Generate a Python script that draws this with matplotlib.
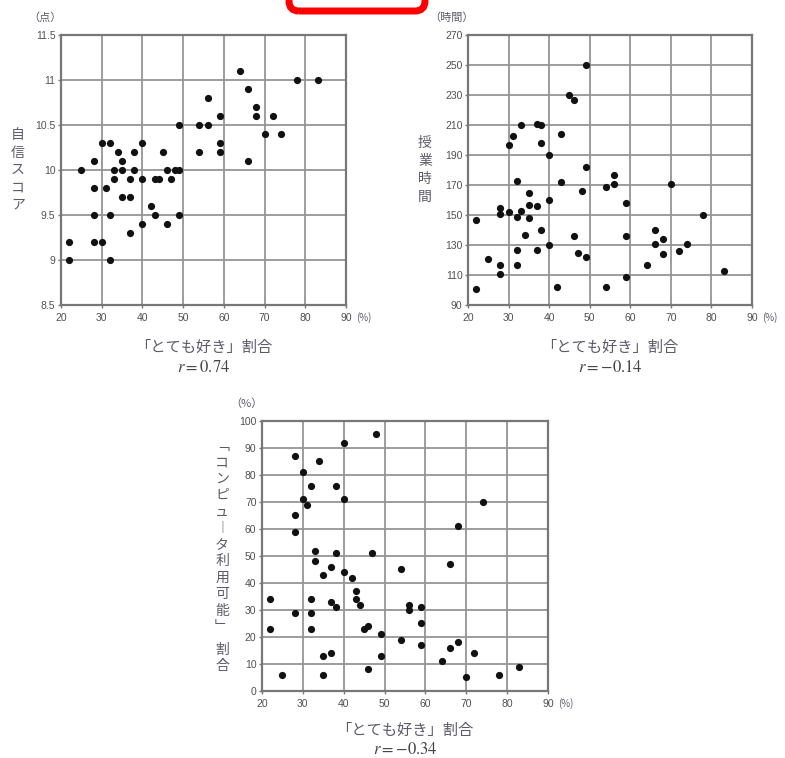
import numpy as np
import matplotlib.pyplot as plt
from matplotlib.patches import FancyBboxPatch
from matplotlib.ticker import FuncFormatter

plt.rcParams['font.family'] = ['Noto Sans CJK JP', 'DejaVu Sans']
plt.rcParams['mathtext.fontset'] = 'stix'

# 「とても好き」割合 vs 自信スコア
like_a = [22, 22, 25, 28, 28, 28, 28, 30, 30, 31, 32, 32, 32, 33, 33, 34, 35, 35, 35,
          37, 37, 37, 38, 38, 40, 40, 40, 42, 43, 43, 44, 45, 46, 46, 47, 48, 49, 49,
          49, 54, 54, 56, 56, 59, 59, 59, 64, 66, 66, 68, 68, 70, 72, 74, 78, 83]
score = [9.2, 9.0, 10.0, 10.1, 9.8, 9.5, 9.2, 10.3, 9.2, 9.8, 10.3, 9.5, 9.0, 10.0,
         9.9, 10.2, 10.1, 10.0, 9.7, 9.9, 9.7, 9.3, 10.2, 10.0, 10.3, 9.9, 9.4, 9.6,
         9.9, 9.5, 9.9, 10.2, 10.0, 9.4, 9.9, 10.0, 10.5, 10.0, 9.5, 10.5, 10.2, 10.8,
         10.5, 10.6, 10.3, 10.2, 11.1, 10.9, 10.1, 10.7, 10.6, 10.4, 10.6, 10.4, 11.0, 11.0]

# 「とても好き」割合 vs 授業時間
like_b = [22, 22, 25, 28, 28, 28, 28, 30, 30, 31, 32, 32, 32, 32, 33, 33, 34, 35, 35,
          35, 37, 37, 37, 38, 38, 38, 40, 40, 40, 42, 43, 43, 45, 46, 46, 47, 48, 49,
          49, 49, 54, 54, 56, 56, 59, 59, 59, 64, 66, 66, 68, 68, 70, 72, 74, 78, 83]
hours = [147, 101, 121, 155, 151, 117, 111, 197, 152, 203, 173, 149, 127, 117, 210,
         153, 137, 165, 157, 148, 211, 156, 127, 210, 198, 140, 190, 160, 130, 102,
         204, 172, 230, 227, 136, 125, 166, 250, 182, 122, 169, 102, 177, 171, 158,
         136, 109, 117, 140, 131, 134, 124, 171, 126, 131, 150, 113]

# 「とても好き」割合 vs 「コンピュータ利用可能」割合
like_c = [22, 22, 25, 28, 28, 28, 28, 30, 30, 31, 32, 32, 32, 32, 33, 33, 34, 35, 35,
          35, 37, 37, 37, 38, 38, 38, 40, 40, 40, 42, 43, 43, 44, 45, 46, 46, 47, 48,
          49, 49, 54, 54, 56, 56, 59, 59, 59, 64, 66, 66, 68, 68, 70, 72, 74, 78, 83]
pc_rate = [34, 23, 6, 87, 65, 59, 29, 81, 71, 69, 76, 34, 29, 23, 52, 48, 85, 43, 13,
           6, 46, 33, 14, 76, 51, 31, 92, 71, 44, 42, 37, 34, 32, 23, 24, 8, 51, 95,
           21, 13, 45, 19, 32, 30, 31, 25, 17, 11, 47, 16, 61, 18, 5, 14, 70, 6, 9]

x_ticks = np.arange(20, 91, 10)
x_name = '「とても好き」割合'

TXT = '#5b5b6b'
GRID = '#959595'
SPINE = '#777777'

fig = plt.figure(figsize=(7.85, 7.58), dpi=100)


def vertical_label(ax, chars, dx, step, gap_after=None, gap=0.0, size=10):
    # stack characters upright, centred on the axes height
    offs = []
    pos = 0.0
    for i, ch in enumerate(chars):
        offs.append(pos)
        pos += step
        if gap_after is not None and i == gap_after:
            pos += gap
    mid = (offs[0] + offs[-1]) / 2
    for ch, o in zip(chars, offs):
        ax.annotate(ch, xy=(0, 0.5), xycoords='axes fraction',
                    xytext=(dx, mid - o), textcoords='offset pixels',
                    ha='center', va='center', fontsize=size, color=TXT)


def scatter_panel(rect, x, y, yticks, unit, r_text, ylab, ylab_kw, xl_off):
    ax = fig.add_axes(rect)
    ax.scatter(x, y, s=27, color='#111111', zorder=3, linewidths=0)
    ax.set_xlim(20, 90)
    ax.set_ylim(yticks[0], yticks[-1])
    ax.set_xticks(x_ticks)
    ax.set_yticks(yticks)
    ax.yaxis.set_major_formatter(FuncFormatter(lambda v, _: f'{v:g}'))
    ax.grid(True, color=GRID, lw=1.3)
    ax.set_axisbelow(True)
    for sp in ax.spines.values():
        sp.set_color(SPINE)
        sp.set_linewidth(1.6)
    ax.tick_params(length=2.5, width=1, color=SPINE, labelsize=7.5,
                   labelcolor='#505050', labelfontfamily='Liberation Sans')
    ax.tick_params(axis='x', pad=3)
    ax.tick_params(axis='y', pad=1.5)

    # units
    ax.annotate(unit, xy=(0, 1), xycoords='axes fraction', xytext=(-16, 17),
                textcoords='offset pixels', ha='center', va='center',
                fontsize=8, color=TXT)
    ax.annotate('(%)', xy=(1, 0), xycoords='axes fraction', xytext=(18, -13),
                textcoords='offset pixels', ha='center', va='center',
                fontsize=7, color=TXT)

    ax.annotate(x_name, xy=(0.5, 0), xycoords='axes fraction',
                xytext=(0, -xl_off), textcoords='offset pixels',
                ha='center', va='center', fontsize=11, color=TXT)
    ax.annotate(r_text, xy=(0.5, 0), xycoords='axes fraction',
                xytext=(0, -xl_off - 20), textcoords='offset pixels',
                ha='center', va='center', fontsize=12, color='#444444')
    vertical_label(ax, ylab, **ylab_kw)
    return ax


scatter_panel([0.0777, 0.5976, 0.3631, 0.3562], like_a, score,
              np.arange(8.5, 11.51, 0.5), '（点）', r'$r=0.74$',
              list('自信スコア'), dict(dx=-43, step=17.5), 42)

scatter_panel([0.5962, 0.5976, 0.3618, 0.3562], like_b, hours,
              np.arange(90, 271, 20), '（時間）', r'$r=-0.14$',
              list('授業時間'), dict(dx=-43, step=18), 42)

scatter_panel([0.3338, 0.0884, 0.3643, 0.3562], like_c, pc_rate,
              np.arange(0, 101, 10), '（%）', r'$r=-0.34$',
              list('﹁コンピュ︱タ利用可能﹂割合'),
              dict(dx=-40, step=16.5, gap_after=11, gap=6), 39)

# red frame cut off at the top edge
box = FancyBboxPatch((2.89, 7.47), 1.36, 1.0,
                     boxstyle='round,pad=0,rounding_size=0.1',
                     transform=fig.dpi_scale_trans, fill=False,
                     edgecolor='#ff0000', linewidth=5, clip_on=False)
fig.add_artist(box)

fig.savefig('out.png', dpi=100)
